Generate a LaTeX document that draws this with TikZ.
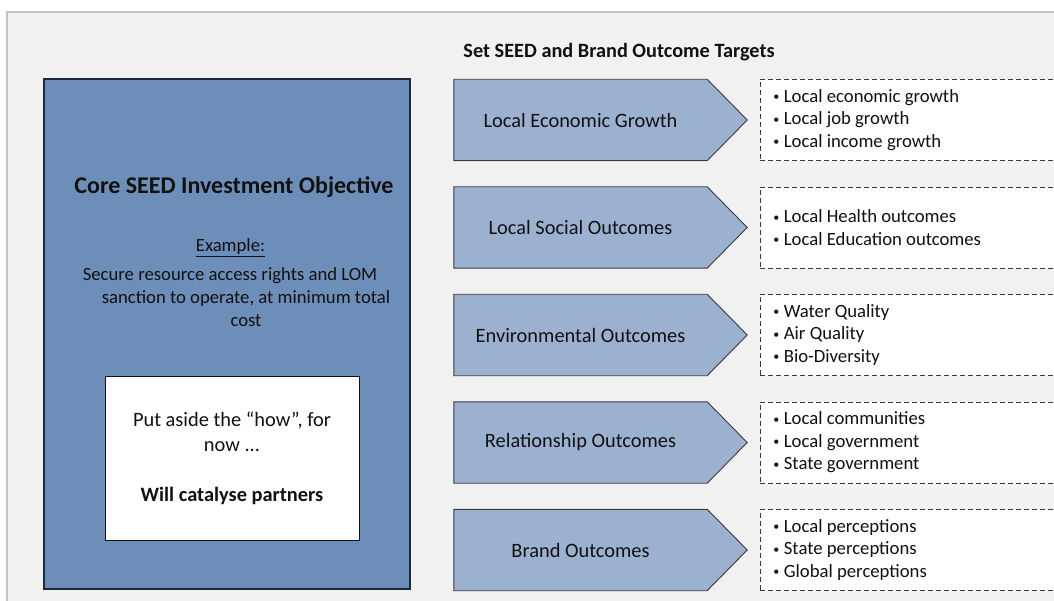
\documentclass[tikz,border=0pt]{standalone}
\usepackage{fontspec}
\setmainfont{Carlito}
\usetikzlibrary{positioning,backgrounds,calc}
\definecolor{ink}{HTML}{111111}
\definecolor{panel}{HTML}{F1F1F1}
\definecolor{frame}{HTML}{C4C4C4}
\definecolor{core}{HTML}{6E8EBA}
\definecolor{corerule}{HTML}{1E2A3A}
\definecolor{chev}{HTML}{9CB0D0}
\definecolor{chevrule}{HTML}{3A3A3A}
\newcommand{\txt}[2]{\fontsize{#1}{#2}\selectfont}
\newcommand{\itm}{\kern1pt\raisebox{1.6pt}{\txt{12}{12}\textbullet}\kern4.5pt}

\begin{document}
\begin{tikzpicture}[x=1pt,y=-1pt,
  outcome/.style={minimum width=253pt,minimum height=81pt,inner sep=0pt,text=ink,font=\txt{20.4}{24}},
  tgtbox/.style={draw=chevrule,dashed,dash pattern=on 5pt off 3pt,fill=white,minimum width=310pt,minimum height=81pt,inner sep=0pt},
  tgtlist/.style={anchor=west,align=left,inner sep=0pt,text=ink,font=\txt{18.7}{22.6}}]
\useasboundingbox (0,0) rectangle (1054,601);
\begin{scope}[on background layer]
  \draw[frame,fill=panel,line width=1.4pt] (7,12) rectangle (1070,620);
\end{scope}

% left: the core objective
\node[draw=corerule,fill=core,line width=1.3pt,minimum width=366pt,minimum height=510pt,inner sep=0pt] (core) at (227,334) {};
\node[text=ink,font=\bfseries\txt{24}{28}] (obj) at (234,187) {Core SEED Investment Objective};
\node[text=ink,font=\txt{18.7}{22.6}] (ex) at (230.5,248) {\underline{Example:}};
\node[text=ink,font=\txt{18.7}{23},align=center] (secure) at (246,297)
  {Secure resource access rights and LOM\hspace*{32pt}\\sanction to operate, at minimum total\\cost};
\node[draw=ink,fill=white,line width=1pt,minimum width=254pt,minimum height=164pt,inner sep=0pt,
  text=ink,font=\txt{20.4}{25.5},align=center] (aside) at (232,458)
  {Put aside the “how”, for\\now ...\\[24pt]\textbf{Will catalyse partners}};

% right: outcome targets
\node[text=ink,font=\bfseries\txt{20.3}{24}] (head) at (619,52) {Set SEED and Brand Outcome Targets};
\foreach \name/\list [count=\i] in {
  Local Economic Growth/{\itm Local economic growth\\\itm Local job growth\\\itm Local income growth},
  Local Social Outcomes/{\itm Local Health outcomes\\\itm Local Education outcomes},
  Environmental Outcomes/{\itm Water Quality\\\itm Air Quality\\\itm Bio-Diversity},
  Relationship Outcomes/{\itm Local communities\\\itm Local government\\\itm State government},
  Brand Outcomes/{\itm Local perceptions\\\itm State perceptions\\\itm Global perceptions}}
{
  \node[outcome] (c\i) at (580.5,{120+(\i-1)*107.5}) {\name};
  \begin{scope}[on background layer]
    \draw[chevrule,fill=chev,line width=0.9pt] (c\i.north west) -- (c\i.north east)
      -- ($(c\i.east)+(40,0)$) -- (c\i.south east) -- (c\i.south west) -- cycle;
  \end{scope}
  \node[tgtbox,right=53pt of c\i] (t\i) {};
  \node[tgtlist,right=12pt of t\i.west] (l\i) {\list};
}
\end{tikzpicture}
\end{document}
